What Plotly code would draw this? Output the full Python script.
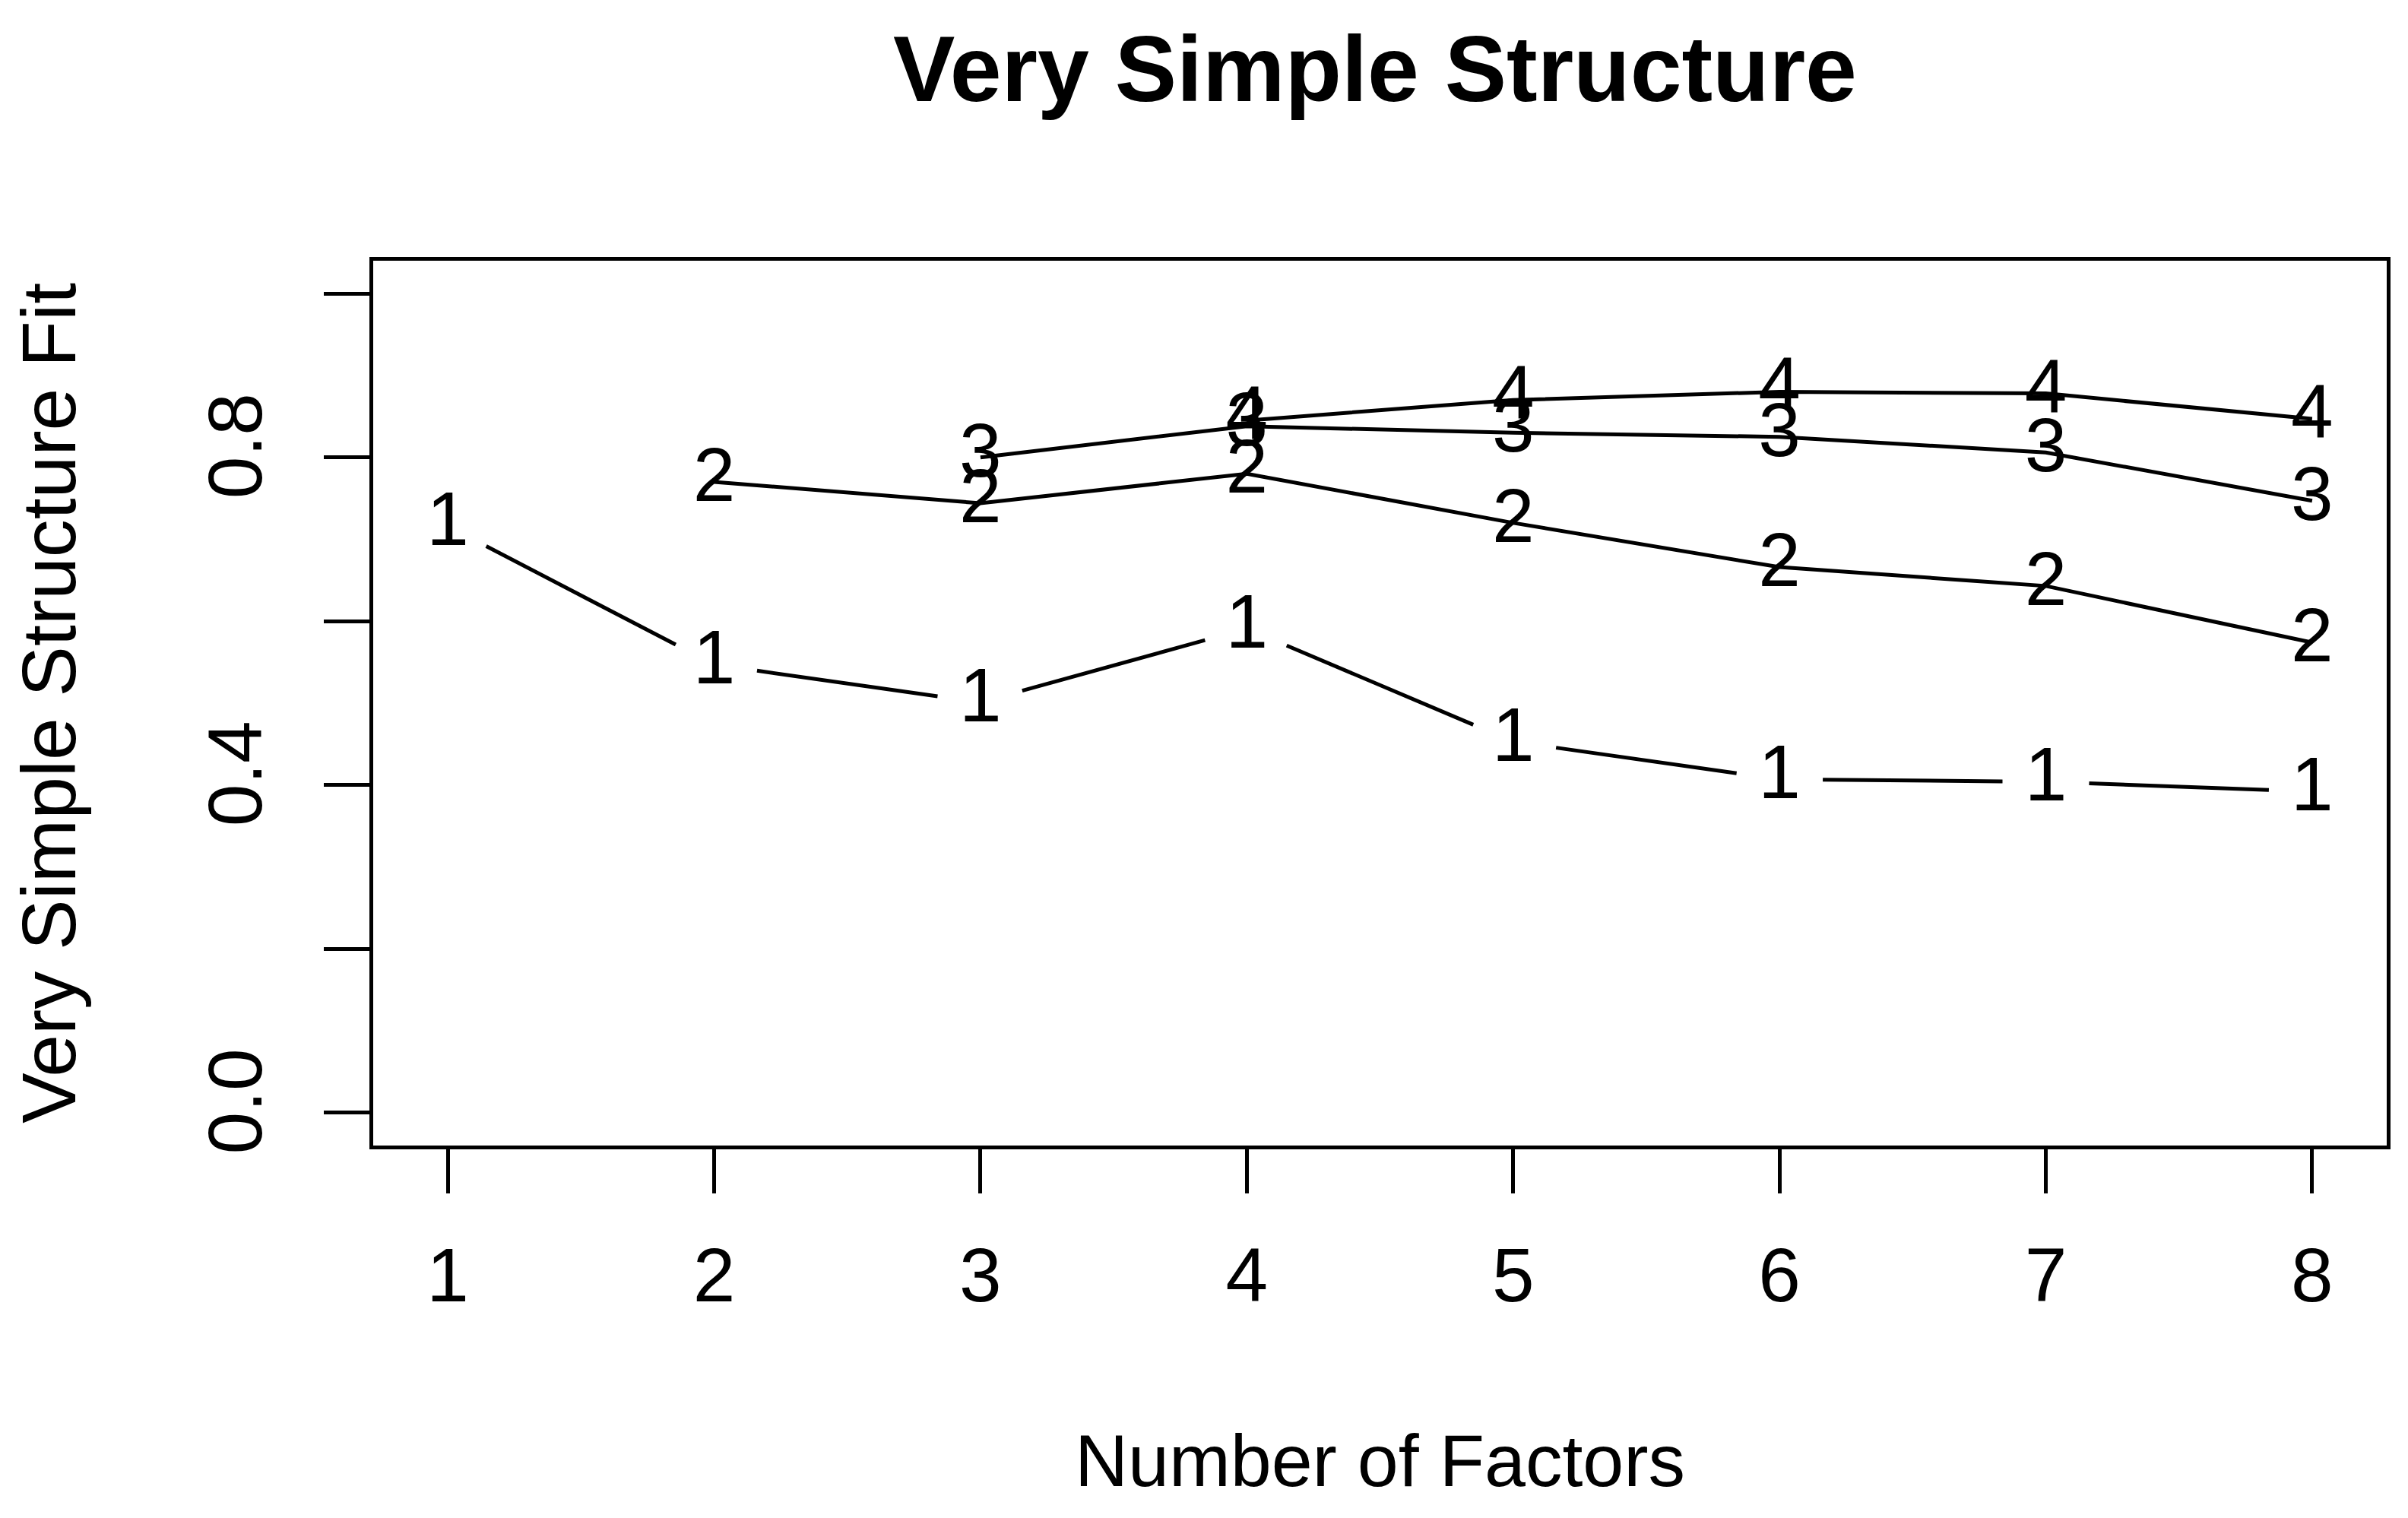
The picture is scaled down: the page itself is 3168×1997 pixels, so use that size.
import math
import plotly.graph_objects as go

factors = [1, 2, 3, 4, 5, 6, 7, 8]
complexity_1 = [0.716, 0.547, 0.501, 0.591, 0.453, 0.407, 0.404, 0.392]
complexity_2 = [None, 0.770, 0.744, 0.780, 0.720, 0.666, 0.643, 0.574]
complexity_3 = [None, None, 0.800, 0.838, 0.830, 0.825, 0.806, 0.747]
complexity_4 = [None, None, None, 0.845, 0.870, 0.880, 0.878, 0.847]
y_tickvals = [0.0, 0.2, 0.4, 0.6, 0.8, 1.0]
y_ticktext = ["0.0", "", "0.4", "", "0.8", ""]

W, H = 3168, 1997
ML, MR, MT, MB = 483, 36, 335, 498
XR = [0.72, 8.28]
YR = [-0.04, 1.04]
FONT = "Liberation Sans, Arial, sans-serif"
FS = 100

# pixel scale of the plotting region (used to leave R-style gaps around symbols)
sx = (W - ML - MR) / (XR[1] - XR[0])
sy = (H - MT - MB) / (YR[1] - YR[0])


def gapped(xs, ys, gap=57.0):
    gx, gy = [], []
    for i in range(len(xs) - 1):
        x0, y0, x1, y1 = xs[i], ys[i], xs[i + 1], ys[i + 1]
        d = math.hypot((x1 - x0) * sx, (y1 - y0) * sy)
        f = gap / d
        gx += [x0 + (x1 - x0) * f, x1 - (x1 - x0) * f, None]
        gy += [y0 + (y1 - y0) * f, y1 - (y1 - y0) * f, None]
    return gx, gy


fig = go.Figure()
line = dict(color="black", width=5)

gx, gy = gapped(factors, complexity_1)
fig.add_trace(go.Scatter(x=gx, y=gy, mode="lines", line=line, hoverinfo="skip"))
fig.add_trace(go.Scatter(x=factors, y=complexity_1, mode="text", text=["1"] * 8,
                         textposition="middle center",
                         textfont=dict(family=FONT, size=FS, color="black")))

for lab, series in (("2", complexity_2), ("3", complexity_3), ("4", complexity_4)):
    xs = [f for f, v in zip(factors, series) if v is not None]
    ys = [v for v in series if v is not None]
    fig.add_trace(go.Scatter(x=xs, y=ys, mode="lines+text", line=line,
                             text=[lab] * len(xs), textposition="middle center",
                             textfont=dict(family=FONT, size=FS, color="black")))

fig.update_layout(
    width=W, height=H,
    margin=dict(l=ML, r=MR, t=MT, b=MB, autoexpand=False),
    paper_bgcolor="white", plot_bgcolor="white",
    showlegend=False,
    font=dict(family=FONT, size=FS, color="black"),
    title=dict(text="<b>Very Simple Structure</b>", x=1801 / W, xanchor="center",
               xref="container",
               y=1 - 82 / H, yanchor="middle", yref="container",
               font=dict(family=FONT, size=122, color="black")),
    xaxis=dict(range=XR, tickvals=factors, ticktext=[str(f) for f in factors],
               showline=True, mirror=True, linecolor="black", linewidth=5,
               ticks="outside", ticklen=58, tickwidth=5, tickcolor="black",
               showgrid=False, zeroline=False, ticklabelstandoff=22,
               tickfont=dict(family=FONT, size=FS, color="black"),
               title=dict(text="Number of Factors", standoff=157,
                          font=dict(family=FONT, size=97, color="black")),
               automargin=False),
    yaxis=dict(range=YR, tickvals=y_tickvals, ticktext=y_ticktext, tickangle=-90,
               showline=True, mirror=True, linecolor="black", linewidth=5,
               ticks="outside", ticklen=60, tickwidth=5, tickcolor="black",
               showgrid=False, zeroline=False, ticklabelstandoff=42,
               tickfont=dict(family=FONT, size=FS, color="black"),
               title=dict(text="Very Simple Structure Fit", standoff=134,
                          font=dict(family=FONT, size=FS, color="black")),
               automargin=False),
)

fig.write_html("out.html")
